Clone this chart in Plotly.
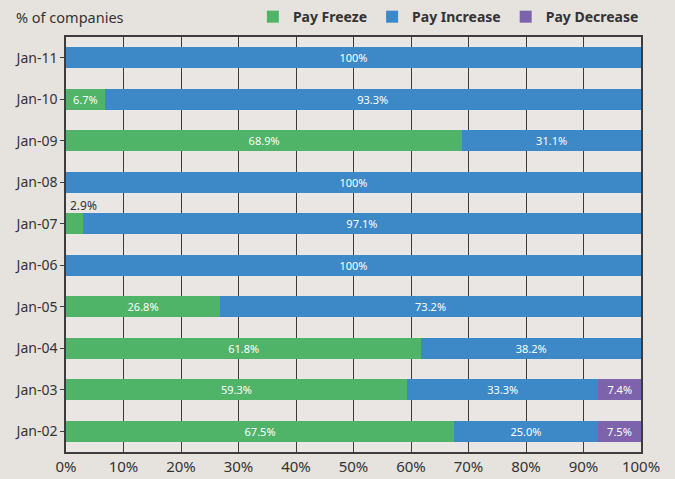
"""Pay freeze / increase / decrease shares by year, horizontal stacked bars."""

import plotly.graph_objects as go

# Data (bottom to top)
MONTHS = ["Jan-02", "Jan-03", "Jan-04", "Jan-05", "Jan-06",
          "Jan-07", "Jan-08", "Jan-09", "Jan-10", "Jan-11"]
PAY_FREEZE = [67.5, 59.3, 61.8, 26.8, 0, 2.9, 0, 68.9, 6.7, 0]
PAY_INCREASE = [25.0, 33.3, 38.2, 73.2, 100, 97.1, 100, 31.1, 93.3, 100]
PAY_DECREASE = [7.5, 7.4, 0, 0, 0, 0, 0, 0, 0, 0]
X_TICKS = [0, 10, 20, 30, 40, 50, 60, 70, 80, 90, 100]

# Colours
GREEN = "#4fb468"
BLUE = "#3d88c7"
PURPLE = "#7c63ab"
TEXT_DARK = "#333333"
GRID_DARK = "#3c3c3c"
PAPER = "#e6e2de"
FONT = "Noto Sans"


def fmt(v):
    if v == 0:
        return ""
    if v == 100:
        return "100%"
    return f"{v:.1f}%"


def labels(values, skip_small=False):
    # tiny segments get their label outside the bar instead
    return [("" if skip_small and 0 < v < 5 else fmt(v)) for v in values]


fig = go.Figure()

series = [
    ("Pay Freeze", PAY_FREEZE, GREEN, True),
    ("Pay Increase", PAY_INCREASE, BLUE, False),
    ("Pay Decrease", PAY_DECREASE, PURPLE, False),
]

for name, values, color, skip_small in series:
    fig.add_trace(
        go.Bar(
            name=name,
            y=MONTHS,
            x=values,
            orientation="h",
            marker=dict(color=color, line=dict(width=0)),
            text=labels(values, skip_small),
            textposition="inside",
            insidetextanchor="middle",
            textangle=0,
            constraintext="none",
            textfont=dict(family=FONT, size=11, color="white"),
            hoverinfo="skip",
        )
    )

# small Jan-07 freeze value sits above its sliver
small = MONTHS.index("Jan-07")
fig.add_annotation(
    x=0, y=MONTHS[small], text=fmt(PAY_FREEZE[small]),
    xanchor="left", xshift=2, yshift=18, showarrow=False,
    font=dict(family=FONT, size=12, color=TEXT_DARK),
)

fig.add_annotation(
    x=-0.091, y=1.048, xref="paper", yref="paper", text="% of companies",
    xanchor="left", yanchor="middle", showarrow=False,
    font=dict(family=FONT, size=14.5, color=TEXT_DARK),
)

fig.update_layout(
    width=675,
    height=479,
    barmode="stack",
    bargap=0.5,
    margin=dict(l=66, r=34, t=37, b=27, autoexpand=False),
    paper_bgcolor=PAPER,
    plot_bgcolor="#e9e6e3",
    font=dict(family=FONT, color=TEXT_DARK),
    showlegend=True,
    legend=dict(
        orientation="h",
        x=1.005, y=1.048, xanchor="right", yanchor="middle",
        bgcolor="rgba(0,0,0,0)",
        font=dict(family=FONT, size=14, color=TEXT_DARK, weight="bold"),
        itemwidth=30,
        traceorder="normal",
    ),
    xaxis=dict(
        range=[0, 100],
        tickvals=X_TICKS,
        ticktext=[f"{t}%" for t in X_TICKS],
        showgrid=True,
        gridcolor=GRID_DARK,
        gridwidth=1,
        showline=True,
        linecolor=GRID_DARK,
        linewidth=1.5,
        mirror=True,
        zeroline=False,
        ticks="",
        tickfont=dict(family=FONT, size=15, color=TEXT_DARK),
    ),
    yaxis=dict(
        categoryorder="array",
        categoryarray=MONTHS,
        showgrid=False,
        showline=True,
        linecolor=GRID_DARK,
        linewidth=1.5,
        mirror=True,
        ticks="outside",
        ticklen=4,
        tickcolor=GRID_DARK,
        tickfont=dict(family=FONT, size=14, color=TEXT_DARK),
    ),
)

# drop the page's default body margin so the figure sits at 0,0
fig.write_html(
    "out.html",
    config={"displayModeBar": False},
    post_script=f"document.body.style.margin='0';document.body.style.background='{PAPER}';",
)
